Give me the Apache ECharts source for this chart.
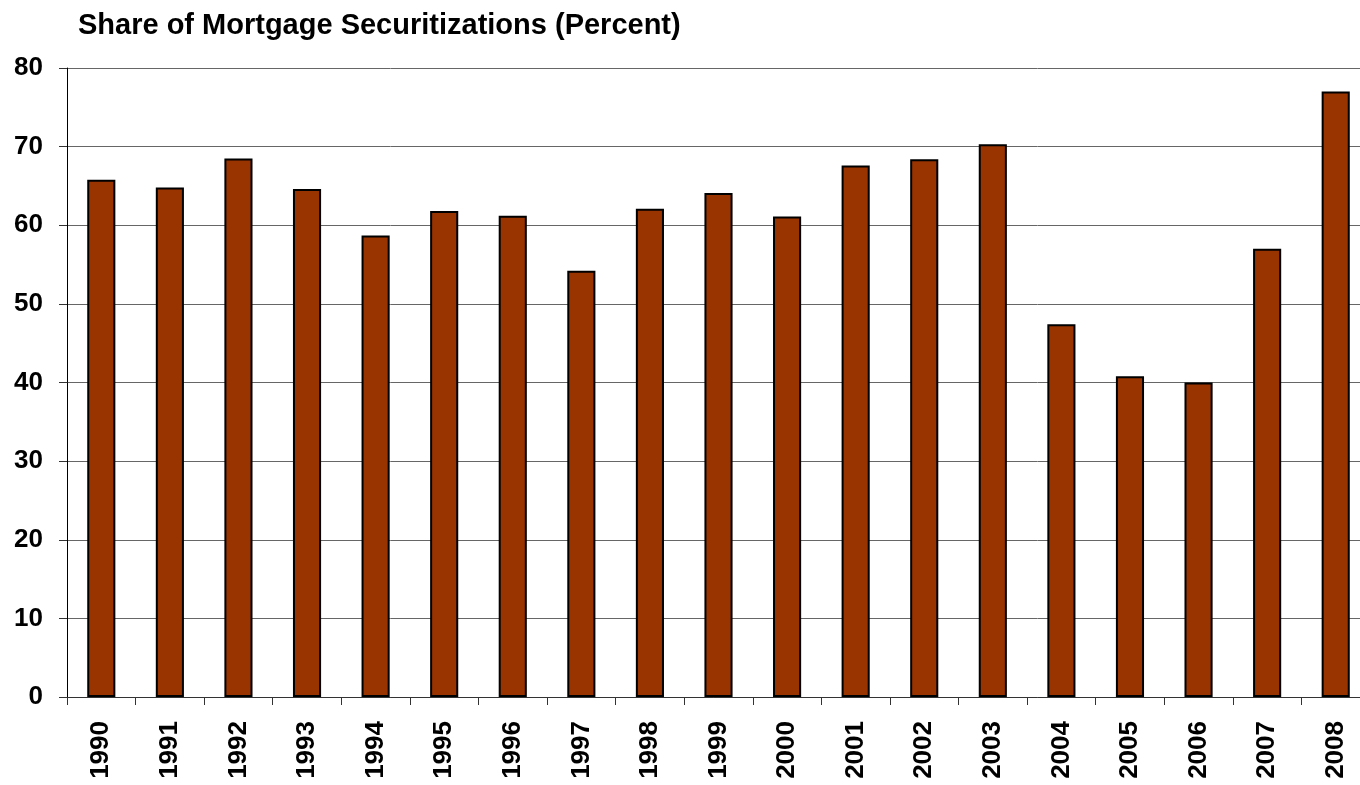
<!DOCTYPE html>
<html>
<head>
<meta charset="utf-8">
<script src="https://cdn.jsdelivr.net/npm/echarts@6/dist/echarts.min.js"></script>
<style>
  html, body { margin: 0; padding: 0; background: #fff; }
  #chart { width: 1360px; height: 785px; }
</style>
</head>
<body>
<div id="chart"></div>
<script>
// Years on the category axis
const years = ['1990', '1991', '1992', '1993', '1994', '1995', '1996', '1997', '1998', '1999',
               '2000', '2001', '2002', '2003', '2004', '2005', '2006', '2007', '2008'];
// Share of mortgage securitizations, percent
const shares = [65.8, 64.8, 68.5, 64.6, 58.7, 61.8, 61.2, 54.2, 62.1, 64.1,
                61.1, 67.6, 68.4, 70.3, 47.4, 40.8, 40.0, 57.0, 77.0];
// Value axis range
const yMin = 0, yMax = 80, yStep = 10;

const font = 'Liberation Sans, Arial, sans-serif';
const chart = echarts.init(document.getElementById('chart'), null, { renderer: 'canvas' });

chart.setOption({
  animation: false,
  backgroundColor: '#ffffff',
  title: {
    text: 'Share of Mortgage Securitizations (Percent)',
    left: 73, top: 6,
    textStyle: { fontFamily: font, fontWeight: 'bold', fontSize: 29, color: '#000' }
  },
  // plot area runs slightly past the right edge of the canvas
  grid: { left: 67, top: 68, height: 629, width: 1303, containLabel: false, outerBoundsMode: 'none' },
  xAxis: {
    type: 'category',
    data: years,
    axisLine: { lineStyle: { color: '#333', width: 1 } },
    axisTick: { show: true, length: 8, alignWithLabel: false, lineStyle: { color: '#333' } },
    axisLabel: {
      rotate: 90, margin: 24, interval: 0,
      fontFamily: font, fontWeight: 'bold', fontSize: 26, color: '#000'
    }
  },
  yAxis: {
    type: 'value',
    min: yMin, max: yMax, interval: yStep,
    axisLine: { show: true, lineStyle: { color: '#000', width: 1 } },
    axisTick: { show: true, length: 8, lineStyle: { color: '#333' } },
    axisLabel: {
      margin: 24,
      fontFamily: font, fontWeight: 'bold', fontSize: 26, color: '#000'
    },
    splitLine: { show: true, lineStyle: { color: '#666', width: 1 } }
  },
  series: [{
    type: 'bar',
    data: shares,
    barWidth: '41%',
    itemStyle: { color: '#993300', borderColor: '#000', borderWidth: 2 }
  }]
});
</script>
</body>
</html>
